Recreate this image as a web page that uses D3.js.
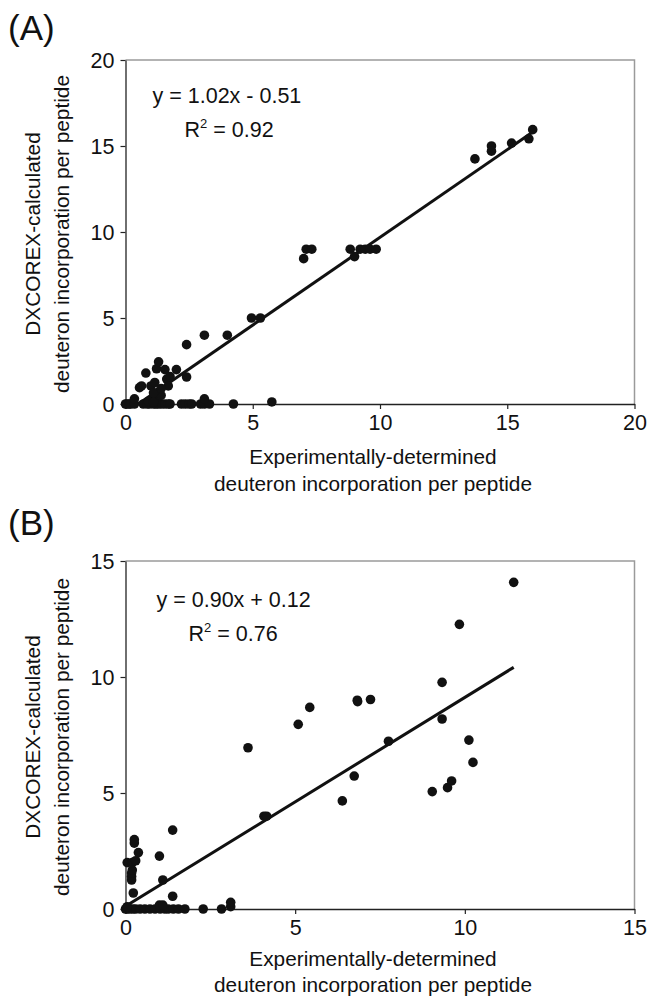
<!DOCTYPE html>
<html><head><meta charset="utf-8">
<script src="https://cdn.jsdelivr.net/npm/d3@7"></script>
<style>
body{margin:0;background:#fff;}
svg{display:block;font-family:"Liberation Sans",Arial,Helvetica,sans-serif;}
</style></head>
<body><svg id="c" width="648" height="999"></svg>
<script>
// Panel A data
const aX = [0,0.05,0.15,0.2,0.35,0.7,0.85,0.95,1.1,1.2,1.3,1.42,1.55,1.68,1.75,2.2,2.35,2.5,2.6,2.95,3.1,3.3,4.24,
  0.35,3.1,5.75,1.0,1.2,1.3,1.4,0.9,1.1,
  0.55,0.63,0.8,1.0,1.1,1.15,1.22,1.3,1.55,1.62,1.68,1.75,2.0,2.4,1.4,
  2.4,3.1,4.0,4.95,5.3,7.0,7.1,7.32,8.83,9.0,9.22,9.42,9.61,9.85,13.73,14.38,14.38,15.17,15.85,16.0];
const aY = [0,0,0,0,0,0,0,0,0,0,0,0,0,0,0,0,0,0,0,0,0,0,0,
  0.3,0.3,0.12,0.2,0.4,0.7,0.5,0.15,0.1,
  0.95,1.05,1.8,1.05,0.65,1.25,2.05,2.45,2.0,1.45,1.05,1.6,2.0,1.57,0.9,
  3.45,4.0,4.0,5.0,5.0,8.45,9.0,9.0,9.0,8.57,9.0,9.0,9.0,9.0,14.25,15.0,14.7,15.17,15.42,15.95];
// Panel B data
const bX = [0,0.05,0.13,0.22,0.3,0.43,0.57,0.72,0.87,1.02,1.16,1.26,1.41,1.56,1.75,2.29,2.83,
  0.05,3.1,3.1,1.0,1.1,1.39,0.23,
  0.18,0.18,0.18,0.2,0.05,0.2,0.3,0.38,0.26,0.26,
  1.0,1.1,1.39,3.61,4.08,4.16,5.09,5.43,6.39,6.74,6.83,6.84,7.22,7.75,9.04,9.33,9.33,9.49,9.61,9.84,10.12,10.24,11.44];
const bY = [0,0,0,0,0,0,0,0,0,0,0,0,0,0,0,0,0,
  0.1,0.1,0.29,0.17,0.17,0.55,0.69,
  1.25,1.4,1.55,1.68,2.0,2.0,2.08,2.43,2.84,2.99,
  2.28,1.25,3.4,6.95,4.0,4.0,7.96,8.69,4.66,5.73,9.0,8.94,9.03,7.23,5.06,9.77,8.19,5.23,5.52,12.27,7.28,6.32,14.08];
const aTicks = [0,5,10,15,20];
const bTicks = [0,5,10,15];
const fitA = {slope:1.02, intercept:-0.51, x0:0.5, x1:16.0, eq:"y = 1.02x - 0.51", r2:"0.92"};
const fitB = {slope:0.90, intercept:0.12, x0:0.0, x1:11.44, eq:"y = 0.90x + 0.12", r2:"0.76"};
const xTitle = ["Experimentally-determined","deuteron incorporation per peptide"];
const yTitle = ["DXCOREX-calculated","deuteron incorporation per peptide"];

const svg = d3.select("#c");

function panel(opts){
  const {label, labelY, xs, ys, ticks, max, fit, top, bottom, eqX, eqY, tY, tGap} = opts;
  const left = 125.5, right = 634.5;
  const x = d3.scaleLinear().domain([0,max]).range([left,right]);
  const y = d3.scaleLinear().domain([0,max]).range([bottom,top]);
  const g = svg.append("g");
  // frame top/right
  g.append("path").attr("d",`M${left},${top}H${right}V${bottom}`).attr("fill","none")
    .attr("stroke","#9a9a9a").attr("stroke-width",1.5);
  // axes
  const xa = g.append("g").attr("transform",`translate(0,${bottom})`)
    .call(d3.axisBottom(x).tickValues(ticks).tickSize(5).tickSizeOuter(0).tickPadding(5));
  const ya = g.append("g").attr("transform",`translate(${left},0)`)
    .call(d3.axisLeft(y).tickValues(ticks).tickSize(5).tickSizeOuter(0).tickPadding(6));
  [xa,ya].forEach(a=>{
    a.select(".domain").attr("stroke","#222").attr("stroke-width",1.3);
    a.selectAll(".tick line").attr("stroke","#222").attr("stroke-width",1.2);
    a.selectAll(".tick text").attr("font-size",21.5).attr("fill","#111")
      .attr("font-family","Liberation Sans, Arial, sans-serif");
  });
  ya.selectAll(".tick text").attr("dy","0.36em");
  xa.selectAll(".tick text").attr("dy","0.74em");
  // fit line
  g.append("line")
    .attr("x1",x(fit.x0)).attr("y1",y(fit.slope*fit.x0+fit.intercept))
    .attr("x2",x(fit.x1)).attr("y2",y(fit.slope*fit.x1+fit.intercept))
    .attr("stroke","#111").attr("stroke-width",3);
  // points
  g.append("g").selectAll("circle").data(xs.map((v,i)=>[v,ys[i]])).join("circle")
    .attr("cx",d=>x(d[0])).attr("cy",d=>y(d[1])).attr("r",4.8).attr("fill","#111");
  // equation
  g.append("text").attr("x",left+eqX).attr("y",top+eqY).attr("font-size",21.5).attr("fill","#111")
    .text(fit.eq);
  const r = g.append("text").attr("x",left+eqX+32).attr("y",top+eqY+34).attr("font-size",21.5).attr("fill","#111");
  r.append("tspan").text("R");
  r.append("tspan").attr("dy",-9).attr("font-size",13).text("2");
  r.append("tspan").attr("dy",9).text(" = "+fit.r2);
  // x title
  const cx = 373;
  xTitle.forEach((t,i)=>g.append("text").attr("x",cx).attr("y",bottom+tY+i*tGap)
    .attr("text-anchor","middle").attr("font-size",20.8).attr("fill","#111").text(t));
  // y title
  const cy = (top+bottom)/2 + 2;
  yTitle.forEach((t,i)=>g.append("text")
    .attr("transform",`translate(${40+i*29},${cy}) rotate(-90)`)
    .attr("text-anchor","middle").attr("font-size",20.8).attr("fill","#111").text(t));
  // panel label
  g.append("text").attr("x",8).attr("y",labelY).attr("font-size",35).attr("fill","#111").text(label);
}

panel({label:"(A)", labelY:40, xs:aX, ys:aY, ticks:aTicks, max:20, fit:fitA, top:60, bottom:404, eqX:27, eqY:43, tY:60, tGap:27});
panel({label:"(B)", labelY:535, xs:bX, ys:bY, ticks:bTicks, max:15, fit:fitB, top:561, bottom:909, eqX:31, eqY:46, tY:57, tGap:26});
</script></body></html>
